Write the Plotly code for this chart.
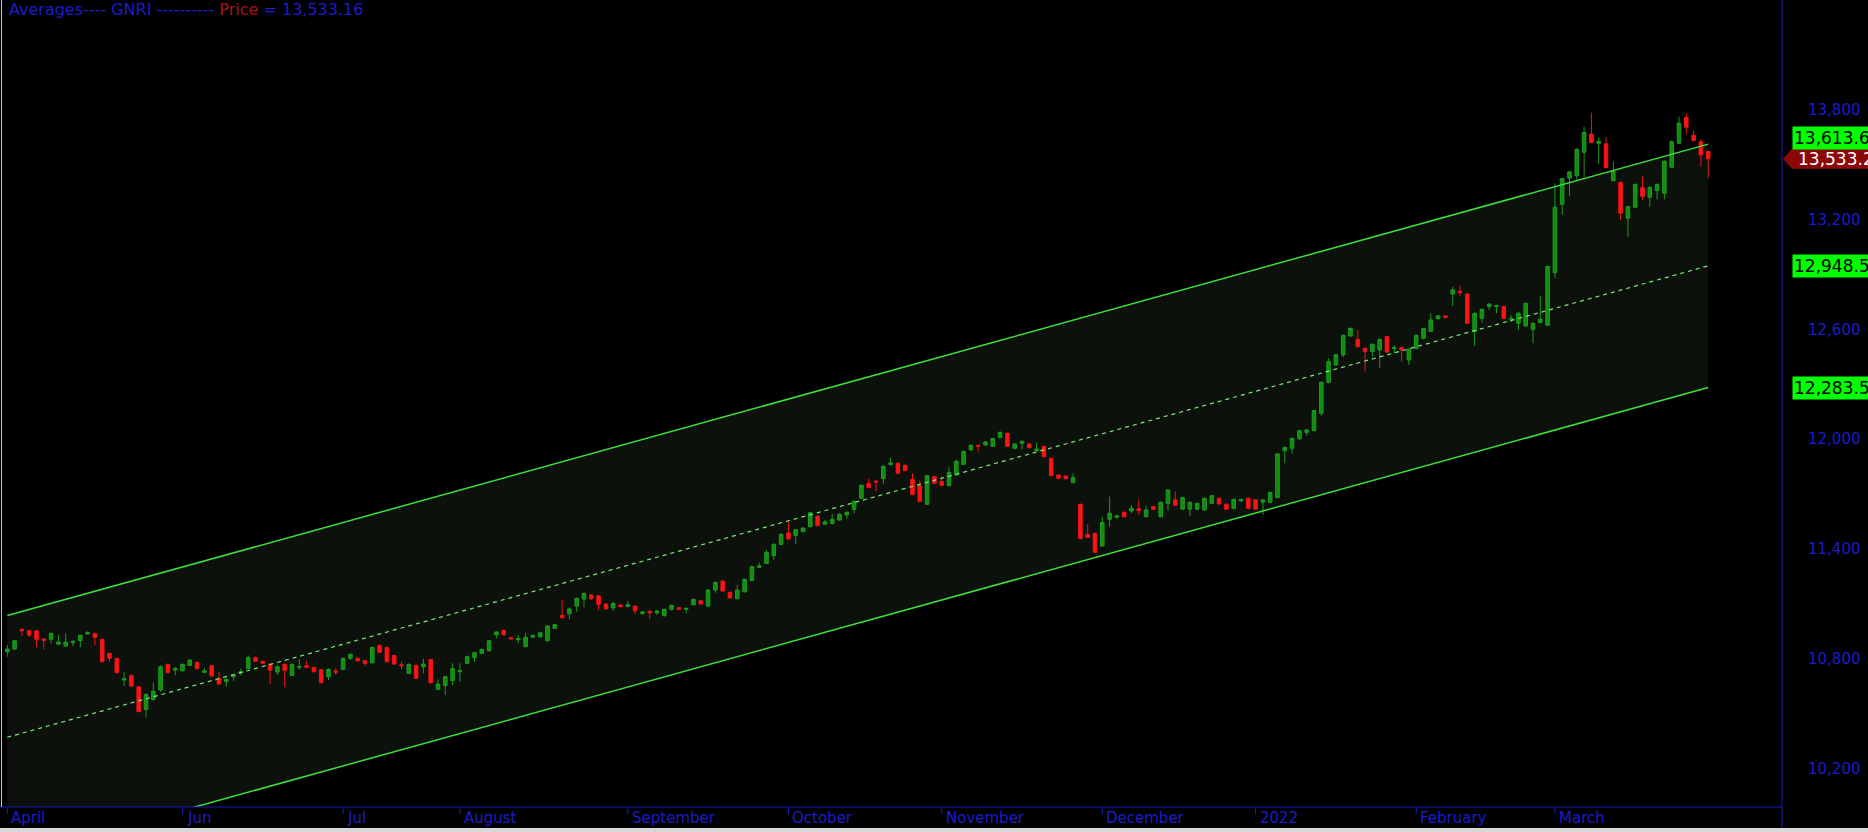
import plotly.graph_objects as go

# ---------------- data ----------------
opens = [10840,10855,10962,10955,10955,10910,10908,10882,10871,10890,10902,10937,10940,10908,10831,10804,10686,10711,10649,10525,
         10580,10631,10771,10740,10737,10766,10782,10728,10764,10695,10678,10704,10726,10749,10808,10788,10771,10729,10771,10711,
         10755,10764,10755,10742,10704,10735,10744,10804,10804,10791,10780,10875,10864,10820,10769,10722,10766,10758,10798,10635,
         10656,10682,10731,10777,10809,10831,10846,10933,10957,10917,10906,10868,10920,10922,10900,10968,11039,11048,11090,11128,
         11150,11146,11101,11079,11095,11088,11090,11050,11061,11053,11037,11072,11081,11072,11097,11119,11090,11177,11226,11165,
         11130,11168,11230,11302,11323,11365,11427,11489,11476,11496,11524,11580,11537,11540,11560,11588,11618,11679,11760,11773,
         11786,11863,11870,11859,11782,11746,11646,11797,11770,11748,11806,11864,11943,11968,11970,11963,12012,12034,11952,11979,
         11975,11939,11963,11897,11806,11800,11764,11646,11482,11487,11418,11564,11575,11602,11609,11622,11578,11633,11578,11651,
         11670,11619,11619,11619,11615,11651,11679,11646,11624,11664,11679,11670,11657,11657,11682,11939,11952,12004,12039,12048,
         12143,12312,12407,12462,12565,12547,12498,12480,12489,12562,12496,12502,12434,12498,12553,12591,12660,12675,12795,12810,
         12795,12589,12662,12726,12726,12726,12657,12635,12620,12602,12639,12624,12912,13285,13427,13440,13569,13669,13618,13615,
         13414,13405,13209,13269,13376,13323,13360,13345,13487,13618,13760,13662,13627,13573]
highs = [10877,10904,10968,10959,10959,10913,10944,10931,10940,10904,10933,10951,10944,10911,10835,10808,10729,10715,10653,10613,
         10671,10767,10777,10758,10777,10800,10788,10753,10768,10729,10695,10717,10748,10820,10813,10791,10777,10767,10777,10777,
         10800,10791,10758,10746,10749,10749,10809,10831,10813,10795,10868,10879,10868,10824,10786,10777,10769,10802,10802,10689,
         10708,10777,10777,10820,10840,10859,10904,10953,10961,10922,10931,10944,10933,10950,10984,10992,11123,11083,11135,11163,
         11154,11150,11104,11113,11101,11117,11094,11064,11068,11068,11075,11097,11086,11083,11132,11123,11181,11223,11232,11168,
         11205,11239,11310,11327,11396,11433,11487,11551,11511,11520,11604,11586,11560,11593,11597,11608,11666,11753,11786,11777,
         11859,11901,11873,11862,11815,11775,11806,11800,11800,11848,11888,11939,11974,11972,11992,12008,12043,12037,11979,11994,
         11979,11983,11966,11901,11810,11804,11815,11649,11538,11491,11578,11688,11588,11606,11642,11673,11637,11637,11660,11728,
         11715,11688,11660,11655,11682,11697,11682,11651,11677,11677,11682,11673,11673,11715,11924,11961,12012,12052,12056,12161,
         12316,12443,12467,12573,12611,12598,12502,12525,12551,12565,12514,12507,12498,12573,12609,12689,12678,12678,12835,12839,
         12799,12693,12715,12744,12735,12730,12680,12693,12748,12639,12784,12948,13400,13429,13465,13589,13709,13786,13651,13651,
         13518,13409,13276,13398,13436,13382,13398,13524,13633,13764,13782,13687,13640,13578]
lows = [10813,10850,10926,10922,10864,10853,10886,10875,10868,10871,10864,10933,10877,10782,10786,10722,10653,10649,10509,10482,
        10573,10622,10722,10711,10731,10762,10744,10722,10704,10660,10649,10682,10711,10744,10784,10773,10664,10713,10646,10708,
        10744,10749,10728,10668,10686,10713,10740,10795,10786,10762,10777,10833,10782,10769,10744,10718,10691,10722,10667,10631,
        10604,10658,10676,10773,10786,10828,10840,10913,10930,10906,10886,10864,10915,10917,10897,10964,11022,11017,11059,11083,
        11123,11068,11068,11064,11083,11083,11046,11041,11021,11041,11033,11064,11068,11050,11094,11097,11086,11163,11168,11130,
        11126,11163,11225,11296,11320,11342,11424,11453,11429,11493,11520,11526,11533,11537,11557,11568,11597,11673,11733,11715,
        11755,11859,11811,11826,11695,11658,11642,11757,11746,11744,11802,11861,11939,11934,11966,11959,12004,11959,11946,11946,
        11952,11935,11902,11799,11782,11782,11760,11455,11462,11380,11415,11524,11569,11575,11597,11588,11575,11615,11575,11611,
        11637,11615,11582,11615,11611,11646,11642,11615,11619,11660,11619,11615,11588,11651,11679,11870,11921,11997,12021,12045,
        12130,12307,12402,12449,12562,12503,12371,12453,12389,12474,12471,12425,12407,12493,12547,12587,12656,12662,12729,12784,
        12631,12511,12638,12708,12690,12657,12639,12598,12617,12526,12635,12620,12881,13227,13331,13418,13433,13618,13505,13482,
        13411,13199,13108,13263,13309,13272,13312,13312,13482,13615,13669,13629,13491,13427]
closes = [10855,10900,10955,10931,10908,10902,10941,10893,10893,10895,10930,10946,10919,10786,10804,10726,10693,10653,10513,10607,
          10624,10758,10727,10749,10771,10795,10748,10735,10708,10664,10689,10713,10731,10808,10788,10777,10740,10758,10738,10771,
          10759,10755,10731,10671,10744,10728,10804,10826,10791,10777,10864,10837,10786,10773,10764,10771,10695,10773,10671,10664,
          10704,10748,10737,10813,10835,10853,10900,10948,10933,10910,10913,10919,10930,10944,10981,10988,11026,11074,11132,11159,
          11130,11099,11075,11104,11086,11097,11064,11057,11053,11062,11072,11094,11072,11077,11126,11101,11177,11219,11172,11134,
          11177,11236,11305,11309,11383,11427,11482,11456,11507,11516,11600,11529,11549,11564,11591,11602,11662,11750,11737,11768,
          11853,11872,11815,11830,11699,11662,11802,11760,11750,11819,11881,11935,11968,11963,11986,12005,12039,11963,11975,11990,
          11955,11948,11906,11802,11788,11786,11791,11458,11465,11384,11546,11597,11582,11578,11624,11611,11615,11619,11657,11724,
          11640,11682,11657,11651,11679,11693,11648,11619,11673,11673,11624,11619,11670,11710,11921,11957,12006,12048,12052,12158,
          12312,12425,12463,12569,12607,12507,12480,12520,12547,12478,12502,12489,12493,12569,12606,12653,12675,12666,12817,12802,
          12635,12689,12711,12740,12731,12662,12662,12690,12744,12635,12657,12945,13269,13425,13462,13585,13678,13622,13629,13485,
          13464,13236,13272,13394,13327,13378,13394,13520,13627,13728,13706,13633,13554,13533.16]

month_labels = ["April", "Jun", "Jul", "August", "September", "October", "November",
                "December", "2022", "February", "March"]
month_bars = [0, 24, 46, 62, 85, 107, 128, 150, 171, 193, 212]

y_ticks = [10200, 10800, 11400, 12000, 12600, 13200, 13800]

channel_bars = [0, 233]
channel_upper = [11038, 13613.6]
channel_mid = [10373, 12948.5]
channel_lower = [9708, 12283.5]

# ---------------- layout constants ----------------
W, H = 1868, 832
PLOT_RIGHT = 1782
PLOT_BOTTOM = 807
BAR_PX = 7.3
FIRST_BAR_PX = 7.3
Y_MIN, Y_MAX = 9992, 14401
FONT = "DejaVu Sans"
BLUE = "#1c1cc8"
AXIS_BLUE = "#1a1ac0"

bars = list(range(len(closes)))
x_lo = (0 - FIRST_BAR_PX) / BAR_PX
x_hi = (PLOT_RIGHT - FIRST_BAR_PX) / BAR_PX
y_dom0 = (H - PLOT_BOTTOM) / H
units_per_px = (Y_MAX - Y_MIN) / PLOT_BOTTOM

fig = go.Figure()

# channel lines
fig.add_trace(go.Scatter(x=channel_bars, y=channel_lower, mode="lines",
                         line=dict(color="#3ee03e", width=1.5), hoverinfo="skip"))
fig.add_trace(go.Scatter(x=channel_bars, y=channel_upper, mode="lines",
                         line=dict(color="#3ee03e", width=1.5), hoverinfo="skip"))
fig.add_trace(go.Scatter(x=channel_bars, y=channel_mid, mode="lines",
                         line=dict(color="#78ee78", width=1.2, dash="4px,4px"), hoverinfo="skip"))

fig.add_trace(go.Candlestick(
    x=bars, open=opens, high=highs, low=lows, close=closes,
    increasing=dict(line=dict(color="#1c9c1c", width=1), fillcolor="#128c12"),
    decreasing=dict(line=dict(color="#f01414", width=1), fillcolor="#ff1414"),
    whiskerwidth=0, hoverinfo="skip"))

shapes = []
ann = []

# channel fill, drawn beneath all traces
b0, b1 = channel_bars
shapes.append(dict(type="path", xref="x", yref="y", layer="below",
                   path=(f"M {b0},{channel_lower[0]} L {b1},{channel_lower[1]} "
                         f"L {b1},{channel_upper[1]} L {b0},{channel_upper[0]} Z"),
                   fillcolor="#0c110c", line=dict(width=0)))

# axis frame lines
shapes.append(dict(type="line", xref="paper", yref="paper", x0=0, x1=PLOT_RIGHT / W,
                   y0=y_dom0, y1=y_dom0, line=dict(color=AXIS_BLUE, width=1)))
shapes.append(dict(type="line", xref="paper", yref="paper", x0=PLOT_RIGHT / W, x1=PLOT_RIGHT / W,
                   y0=0, y1=1, line=dict(color=AXIS_BLUE, width=1)))
shapes.append(dict(type="line", xref="paper", yref="paper", x0=1.5 / W, x1=1.5 / W,
                   y0=y_dom0, y1=1, line=dict(color="#c8c8c8", width=1)))
# bottom strip
shapes.append(dict(type="rect", xref="paper", yref="paper", x0=0, x1=1, y0=0, y1=4 / H,
                   fillcolor="#d8d8d8", line=dict(width=0)))

# month ticks and labels
for lab, b in zip(month_labels, month_bars):
    shapes.append(dict(type="line", xref="x", yref="paper", x0=b, x1=b,
                       y0=(H - 808) / H, y1=(H - 814) / H, line=dict(color=AXIS_BLUE, width=1)))
    ann.append(dict(x=b, xref="x", y=(H - 818) / H, yref="paper", text=lab, showarrow=False,
                    xanchor="left", yanchor="middle", xshift=2,
                    font=dict(family=FONT, size=15, color=BLUE)))

# y tick labels
for v in y_ticks:
    ann.append(dict(x=1863 / W, xref="paper", y=v, yref="y", text=f"{v:,}", showarrow=False,
                    xanchor="right", yanchor="middle", font=dict(family=FONT, size=15, color=BLUE)))

# channel end labels
for v, shift in [(channel_upper[-1], 6), (channel_mid[-1], 0), (channel_lower[-1], 0)]:
    ann.append(dict(x=1792 / W, xref="paper", y=v, yref="y", yshift=shift, text=f"{v:,.1f}",
                    showarrow=False, xanchor="left", yanchor="middle", bgcolor="#00ff00",
                    borderpad=1, font=dict(family=FONT, size=17, color="#000000")))

# price label with arrow
last = closes[-1]
hh = 10 * units_per_px
xt, xl = 1783 / W, 1792 / W
shapes.append(dict(type="path", xref="paper", yref="y",
                   path=f"M {xt},{last} L {xl},{last + hh} L 1,{last + hh} L 1,{last - hh} L {xl},{last - hh} Z",
                   fillcolor="#8c0808", line=dict(width=0)))
ann.append(dict(x=1796 / W, xref="paper", y=last, yref="y", text=f"{last:,.1f}", showarrow=False,
                xanchor="left", yanchor="middle", font=dict(family=FONT, size=17, color="#ffffff")))

# title
title = (f"<span style='color:{BLUE}'>Averages---- GNRI ----------</span> "
         f"<span style='color:#a81414'>Price</span>"
         f"<span style='color:{BLUE}'> = {last:,.2f}</span>")
ann.append(dict(x=7 / W, xref="paper", y=1 - 10 / H, yref="paper", text=title, showarrow=False,
                xanchor="left", yanchor="middle", font=dict(family=FONT, size=16, color=BLUE)))

fig.update_layout(
    width=W, height=H, autosize=False,
    margin=dict(l=0, r=0, t=0, b=0, pad=0),
    paper_bgcolor="#000000", plot_bgcolor="#000000",
    showlegend=False,
    xaxis=dict(domain=[0, PLOT_RIGHT / W], range=[x_lo, x_hi], showgrid=False, zeroline=False,
               showticklabels=False, showline=False, ticks="", rangeslider=dict(visible=False)),
    yaxis=dict(domain=[y_dom0, 1], range=[Y_MIN, Y_MAX], side="right", showgrid=False,
               zeroline=False, showticklabels=False, showline=False, ticks=""),
    shapes=shapes, annotations=ann,
)

fig.write_html("out.html", config={"displayModeBar": False},
               post_script="document.body.style.margin='0';document.body.style.background='#000';document.body.style.overflow='hidden';")
